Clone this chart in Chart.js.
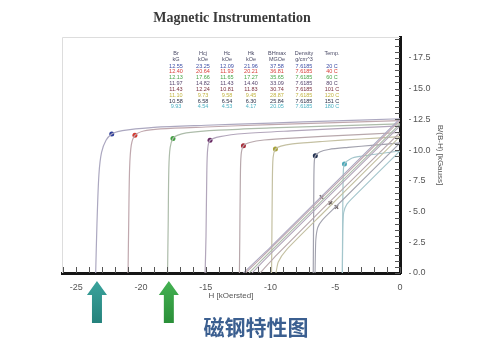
<!DOCTYPE html>
<html>
<head>
<meta charset="utf-8">
<script src="https://cdn.jsdelivr.net/npm/chart.js@4.4.0/dist/chart.umd.min.js"></script>
<style>
    html, body { margin: 0; padding: 0; background: #fff; }
    #wrap { width: 500px; height: 350px; }
</style>
</head>
<body>
<div id="wrap"><canvas id="chart" width="500" height="350"></canvas></div>
<script>
// Table values, one entry per temperature
const tempLabels = ['20 C', '40 C', '60 C', '80 C', '101 C', '120 C', '151 C', '180 C'];
const brVals = ['12.55', '12.40', '12.13', '11.97', '11.43', '11.10', '10.58', '9.93'];
const hcjVals = ['23.25', '20.64', '17.66', '14.82', '12.24', '9.73', '6.58', '4.54'];
const hcVals = ['12.09', '11.93', '11.65', '11.43', '10.81', '9.58', '6.54', '4.53'];
const hkVals = ['21.96', '20.21', '17.27', '14.40', '11.83', '9.45', '6.30', '4.17'];
const bhmaxVals = ['37.58', '36.81', '35.65', '33.09', '30.74', '28.87', '25.84', '20.05'];
const densityVals = ['7.6185', '7.6185', '7.6185', '7.6185', '7.6185', '7.6185', '7.6185', '7.6185'];

// Intrinsic curves B(H), [H kOe, B kG]
const intrinsicCurves = [
    [[0, 12.55], [-5, 12.38], [-10, 12.2], [-15, 12.02], [-19, 11.85], [-21, 11.65], [-21.8, 11.5], [-22.26, 11.3], [-22.7, 10.8], [-23.05, 9.8], [-23.25, 8], [-23.4, 4], [-23.5, 0]],
    [[0, 12.4], [-5, 12.24], [-10, 12.07], [-15, 11.88], [-18.5, 11.72], [-19.8, 11.55], [-20.47, 11.2], [-20.75, 10.4], [-20.88, 8.5], [-20.95, 4], [-21.0, 0]],
    [[0, 12.13], [-5, 11.97], [-10, 11.8], [-14, 11.62], [-16.5, 11.4], [-17.2, 11.2], [-17.53, 10.95], [-17.75, 10.2], [-17.85, 8.5], [-17.9, 4], [-17.95, 0]],
    [[0, 11.97], [-4, 11.78], [-8, 11.58], [-12, 11.35], [-13.9, 11.1], [-14.67, 10.8], [-14.85, 10.1], [-14.92, 8], [-14.98, 3], [-15.05, 0]],
    [[0, 11.43], [-4, 11.22], [-8, 11.0], [-10.5, 10.82], [-11.6, 10.62], [-12.09, 10.35], [-12.27, 9.6], [-12.33, 7.5], [-12.37, 3], [-12.4, 0]],
    [[0, 11.1], [-3, 10.9], [-6, 10.7], [-8.3, 10.5], [-9.2, 10.32], [-9.62, 10.08], [-9.8, 9.4], [-9.86, 7], [-9.9, 2], [-9.92, 0]],
    [[0, 10.58], [-2, 10.4], [-4, 10.22], [-5.5, 10.05], [-6.2, 9.85], [-6.54, 9.54], [-6.63, 8.8], [-6.66, 6], [-6.7, 0]],
    [[0, 9.93], [-1.5, 9.72], [-3, 9.5], [-3.8, 9.3], [-4.29, 8.86], [-4.38, 8.1], [-4.42, 5], [-4.45, 0]]
];

// Normal curves B(H)
const normalCurves = [
    [[0, 12.55], [-6, 6.3], [-10, 2.1], [-12.09, 0]],
    [[0, 12.4], [-6, 6.15], [-10, 1.98], [-11.93, 0]],
    [[0, 12.13], [-6, 5.9], [-10, 1.75], [-11.65, 0]],
    [[0, 11.97], [-6, 5.72], [-10, 1.55], [-11.43, 0]],
    [[0, 11.43], [-6, 5.2], [-9.5, 1.5], [-10.5, 0.35], [-10.81, 0]],
    [[0, 11.1], [-6, 4.82], [-8.8, 1.85], [-9.4, 0.9], [-9.58, 0]],
    [[0, 10.58], [-5, 5.35], [-6, 4.3], [-6.35, 3.7], [-6.5, 2.7], [-6.54, 1.2], [-6.56, 0]],
    [[0, 9.93], [-3.5, 6.28], [-4.1, 5.6], [-4.35, 4.9], [-4.42, 3.5], [-4.45, 0]]
];

// Knee (Hk) markers
const kneeH = [-22.26, -20.47, -17.53, -14.67, -12.09, -9.62, -6.54, -4.29];
const kneeB = [11.3, 11.2, 10.95, 10.8, 10.35, 10.08, 9.54, 8.86];

// BHmax markers on the normal curves
const bhmaxH = [-6.06, -5.37, -4.91];
const bhmaxB = [6.18, 5.69, 5.37];

// Arrows under the axis point at these H values
const arrowH = [-23.4, -17.85];

const rowColors = ['#3d4ea6', '#d8403a', '#47a548', '#58466e', '#7a3040', '#c2b440', '#2c3048', '#4fb2c4'];
const dotColors = ['#2e3f9a', '#d23a30', '#3f9f3f', '#6a2c66', '#a82c3a', '#a6a23a', '#203050', '#4aa8b8'];
const curveColors = ['#aca8c0', '#c0a8ae', '#adbcaa', '#b2a6bb', '#b8a8ac', '#c4c0a2', '#a2a2ae', '#a4c6cc'];

function toPoints(list) {
    return list.map(p => ({ x: p[0], y: p[1] }));
}

const datasets = [];
normalCurves.forEach((c, i) => {
    datasets.push({
        data: toPoints(c),
        showLine: true,
        borderColor: curveColors[i],
        borderWidth: 1.1,
        pointRadius: 0,
        tension: 0.2
    });
});
intrinsicCurves.forEach((c, i) => {
    datasets.push({
        data: toPoints(c),
        showLine: true,
        borderColor: curveColors[i],
        borderWidth: 1.2,
        pointRadius: 0,
        tension: 0.3
    });
});
datasets.push({
    data: kneeH.map((h, i) => ({ x: h, y: kneeB[i] })),
    showLine: false,
    pointRadius: 2.5,
    pointBackgroundColor: dotColors,
    pointBorderColor: dotColors,
    pointBorderWidth: 0
});
datasets.push({
    data: bhmaxH.map((h, i) => ({ x: h, y: bhmaxB[i] })),
    showLine: false,
    pointStyle: 'crossRot',
    pointRadius: 2.5,
    pointBorderColor: '#6a6060',
    pointBorderWidth: 1.3
});

/**
 * Inward minor ticks, faint frame and all the text around the plot
 */
const decorations = {
    id: 'decorations',
    beforeDraw(chart) {
        const { ctx, width, height } = chart;
        ctx.save();
        ctx.fillStyle = '#fff';
        ctx.fillRect(0, 0, width, height);
        ctx.restore();
    },
    afterDatasetsDraw(chart) {
        const { ctx, chartArea: a, scales: { x, y } } = chart;
        ctx.save();
        // faint frame
        ctx.strokeStyle = '#dddddd';
        ctx.lineWidth = 1;
        ctx.beginPath();
        ctx.moveTo(a.left + 0.5, a.bottom);
        ctx.lineTo(a.left + 0.5, a.top + 0.5);
        ctx.lineTo(a.right, a.top + 0.5);
        ctx.stroke();

        // inner ticks
        ctx.strokeStyle = '#555';
        ctx.beginPath();
        for (let v = Math.ceil(x.min); v <= x.max; v++) {
            const px = Math.round(x.getPixelForValue(v)) + 0.5;
            ctx.moveTo(px, a.bottom);
            ctx.lineTo(px, a.bottom - 6);
        }
        for (let v = Math.ceil(y.min * 2) / 2; v <= y.max; v += 0.5) {
            const py = Math.round(y.getPixelForValue(v)) + 0.5;
            ctx.moveTo(a.right, py);
            ctx.lineTo(a.right - 5, py);
        }
        ctx.stroke();
        ctx.restore();
    },
    afterDraw(chart) {
        const { ctx, scales: { x } } = chart;
        ctx.save();

        // title
        ctx.fillStyle = '#3a3a3a';
        ctx.font = 'bold 14px "Liberation Serif", "DejaVu Serif", serif';
        ctx.textAlign = 'center';
        ctx.textBaseline = 'middle';
        ctx.fillText('Magnetic Instrumentation', 232, 18);

        // data table
        const cols = [176, 203, 227, 251, 277, 304, 332];
        const head1 = ['Br', 'Hcj', 'Hc', 'Hk', 'BHmax', 'Density', 'Temp.'];
        const head2 = ['kG', 'kOe', 'kOe', 'kOe', 'MGOe', 'g/cm^3', ''];
        ctx.font = '5.5px "Liberation Sans", Arial, sans-serif';
        ctx.fillStyle = '#4a4a66';
        head1.forEach((t, i) => ctx.fillText(t, cols[i], 53));
        head2.forEach((t, i) => ctx.fillText(t, cols[i], 59));
        tempLabels.forEach((t, r) => {
            const rowY = 66 + r * 5.85;
            ctx.fillStyle = rowColors[r];
            const vals = [brVals[r], hcjVals[r], hcVals[r], hkVals[r], bhmaxVals[r], densityVals[r], t];
            vals.forEach((v, i) => ctx.fillText(v, cols[i], rowY));
        });

        // arrows
        const arrowColors = [['#3aa39c', '#25827c'], ['#44b152', '#2a8f38']];
        arrowH.forEach((h, i) => {
            const cx = x.getPixelForValue(h);
            const top = 281, headBot = 295, bottom = 323;
            const g = ctx.createLinearGradient(0, top, 0, bottom);
            g.addColorStop(0, arrowColors[i][0]);
            g.addColorStop(1, arrowColors[i][1]);
            ctx.fillStyle = g;
            ctx.beginPath();
            ctx.moveTo(cx, top);
            ctx.lineTo(cx + 10, headBot);
            ctx.lineTo(cx + 5, headBot);
            ctx.lineTo(cx + 5, bottom);
            ctx.lineTo(cx - 5, bottom);
            ctx.lineTo(cx - 5, headBot);
            ctx.lineTo(cx - 10, headBot);
            ctx.closePath();
            ctx.fill();
        });

        // caption
        ctx.fillStyle = '#3b5f90';
        ctx.font = 'bold 21px "Noto Sans CJK SC", sans-serif';
        ctx.fillText('磁钢特性图', 256, 327);
        ctx.restore();
    }
};

const ctx = document.getElementById('chart').getContext('2d');
new Chart(ctx, {
    type: 'scatter',
    data: { datasets: datasets },
    options: {
        responsive: false,
        animation: false,
        layout: { padding: { left: 62, top: 37, right: 53, bottom: 47 } },
        plugins: {
            legend: { display: false },
            tooltip: { enabled: false }
        },
        scales: {
            x: {
                type: 'linear',
                position: 'bottom',
                min: -26.1,
                max: 0,
                afterFit: scale => { scale.height = 30; },
                border: { color: '#151515', width: 3 },
                grid: { drawOnChartArea: false, drawTicks: true, tickLength: 5, tickColor: 'rgba(0,0,0,0)' },
                ticks: {
                    stepSize: 1,
                    autoSkip: false,
                    maxRotation: 0,
                    padding: 4,
                    color: '#555',
                    font: { size: 9, family: '"Liberation Sans", Arial, sans-serif' },
                    callback: v => (Math.abs(v % 5) < 1e-6 ? String(v) : '')
                },
                title: {
                    display: true,
                    text: 'H [kOersted]',
                    color: '#555',
                    font: { size: 8, family: '"Liberation Sans", Arial, sans-serif' },
                    padding: { top: 0, bottom: 2 }
                }
            },
            y: {
                type: 'linear',
                position: 'right',
                min: 0,
                max: 19.2,
                afterFit: scale => { scale.width = 47; },
                border: { color: '#151515', width: 3 },
                grid: {
                    drawOnChartArea: false,
                    drawTicks: true,
                    tickLength: 11,
                    tickBorderDash: [0, 7, 4, 20],
                    tickColor: c => (Math.abs(c.tick.value % 2.5) < 1e-6 ? '#888' : 'rgba(0,0,0,0)')
                },
                ticks: {
                    stepSize: 0.5,
                    autoSkip: false,
                    padding: 2,
                    color: '#555',
                    font: { size: 9, family: '"Liberation Sans", Arial, sans-serif' },
                    callback: v => (Math.abs(v % 2.5) < 1e-6 ? v.toFixed(1) : '')
                },
                title: {
                    display: true,
                    text: 'B/(B-H) [kGauss]',
                    color: '#555',
                    font: { size: 8, family: '"Liberation Sans", Arial, sans-serif' },
                    padding: { top: 2, bottom: 0 }
                }
            }
        }
    },
    plugins: [decorations]
});
</script>
</body>
</html>
